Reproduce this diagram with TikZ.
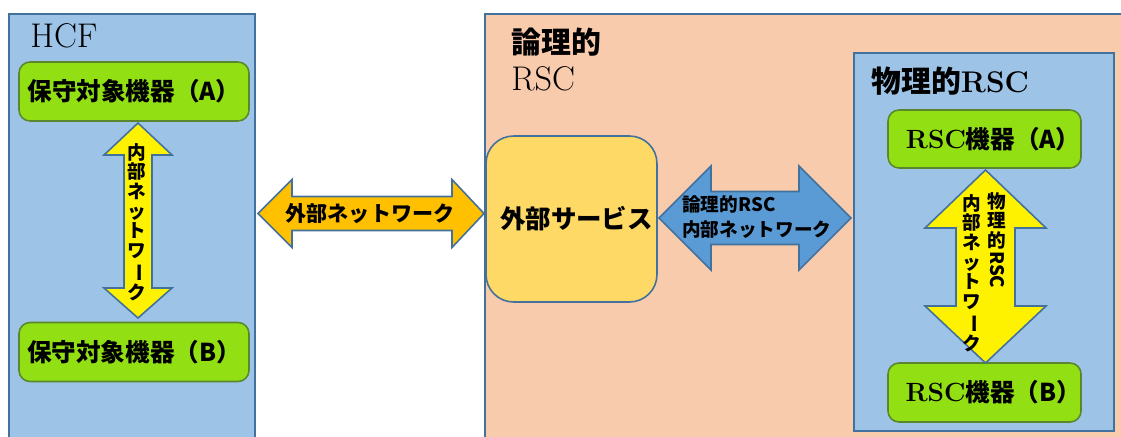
\documentclass[tikz,border=0pt]{standalone}
\usepackage{fontspec}
\usepackage{xcolor}
\usepackage{tikz}
\newfontfamily\jp{Noto Sans CJK JP}

\definecolor{panelblue}{RGB}{157,195,230}
\definecolor{edgeblue}{RGB}{65,113,156}
\definecolor{salmon}{RGB}{248,203,173}
\definecolor{devgreen}{RGB}{146,224,20}
\definecolor{devedge}{RGB}{90,135,45}
\definecolor{svcyellow}{RGB}{255,217,102}
\definecolor{netorange}{RGB}{255,192,0}
\definecolor{netblue}{RGB}{91,155,213}

\begin{document}
\begin{tikzpicture}[
    x=0.02cm, y=-0.02cm,
    panel/.style={rectangle, draw=edgeblue, line width=0.9pt, anchor=north west, inner sep=0},
    device/.style={rectangle, draw=devedge, fill=devgreen, rounded corners=0.22cm, line width=0.9pt, minimum width=4.6cm, minimum height=1.18cm, inner sep=0, font=\jp\bfseries\fontsize{14}{16}\selectfont},
    service/.style={rectangle, draw=edgeblue, fill=svcyellow, rounded corners=0.55cm, line width=0.9pt, minimum width=3.42cm, minimum height=3.32cm, inner sep=0, font=\jp\bfseries\fontsize{14.5}{16}\selectfont},
    fat/.style={draw=edgeblue, line width=0.9pt},
    vlabel/.style={inner sep=0, align=center, font=\jp\bfseries\fontsize{10.6}{11.2}\selectfont},
    title/.style={anchor=base west, inner sep=0}
]
\useasboundingbox (0,0) rectangle (1121,436);

% Panels
\node[panel, fill=panelblue, minimum width=4.92cm, minimum height=8.9cm] (hcf) at (8,13) {};
\node[panel, fill=salmon, minimum width=13cm, minimum height=8.9cm] (logrsc) at (484,13) {};
\node[panel, fill=panelblue, minimum width=5.2cm, minimum height=7.56cm] (phyrsc) at (853,52) {};

% Panel titles
\node[title, font=\fontsize{19.5}{22}\selectfont] (hcftitle) at (30,47) {HCF};
\node[title, font=\jp\bfseries\fontsize{17}{20}\selectfont] (logtitle) at (511,53) {論理的};
\node[title, font=\fontsize{19.5}{22}\selectfont] (logtitle2) at (511,90) {RSC};
\node[title, font=\jp\bfseries\fontsize{17}{20}\selectfont] (phytitle) at (871,92) {物理的{\rmfamily\bfseries RSC}};

% HCF devices
\node[device] (devA) at (134,91.5) {保守対象機器（A）};
\node[device] (devB) at (134,352) {保守対象機器（B）};

% External service
\node[service] (svc) at (571.5,219) {\hspace{0.2cm}外部サービス};

% RSC devices
\node[device, minimum width=3.86cm, minimum height=1.16cm, font=\jp\bfseries\fontsize{14}{16}\selectfont] (rscA) at (984.5,139) {\hspace{0.35cm}{\rmfamily\fontsize{15}{16}\selectfont RSC}機器（A）};
\node[device, minimum width=3.86cm, minimum height=1.18cm, font=\jp\bfseries\fontsize{14}{16}\selectfont] (rscB) at (984.5,392.5) {\hspace{0.35cm}{\rmfamily\fontsize{15}{16}\selectfont RSC}機器（B）};

% Networks
\draw[fat, fill=yellow] (138,123) -- (172,155) -- (152,155) -- (152,288) -- (172,288) -- (138,318)
    -- (104,288) -- (124,288) -- (124,155) -- (104,155) -- cycle;
\draw[fat, fill=netorange] (258,213.5) -- (292,179.5) -- (292,196.5) -- (452,196.5) -- (452,179.5) -- (484,213.5)
    -- (452,247.5) -- (452,230.5) -- (292,230.5) -- (292,247.5) -- cycle;
\draw[fat, fill=netblue] (659,218) -- (711,166) -- (711,191.5) -- (799,191.5) -- (799,166) -- (851,218)
    -- (799,270) -- (799,244.5) -- (711,244.5) -- (711,270) -- cycle;
\draw[fat, fill=yellow] (985.5,170) -- (1046,228) -- (1015,228) -- (1015,306) -- (1046,306) -- (985.5,363)
    -- (925,306) -- (956,306) -- (956,228) -- (925,228) -- cycle;

% Network labels
\node[vlabel] (intnet) at (136.5,222) {内\\部\\ネ\\ッ\\ト\\ワ\\\rotatebox[origin=c]{-90}{ー}\\ク};
\node[inner sep=0, font=\jp\bfseries\fontsize{12}{14}\selectfont] (extnet) at (370,214) {外部ネットワーク};
\node[inner sep=0, anchor=west, align=left, font=\jp\bfseries\fontsize{10.6}{14.7}\selectfont] (lognet) at (682,217) {論理的RSC\\内部ネットワーク};
\node[vlabel, anchor=north] (phynet1) at (997,192) {物\\理\\的\\\rotatebox[origin=c]{-90}{RSC}};
\node[vlabel, anchor=north] (phynet2) at (972,194) {内\\部\\ネ\\ッ\\ト\\ワ\\\rotatebox[origin=c]{-90}{ー}\\ク};

\end{tikzpicture}
\end{document}
